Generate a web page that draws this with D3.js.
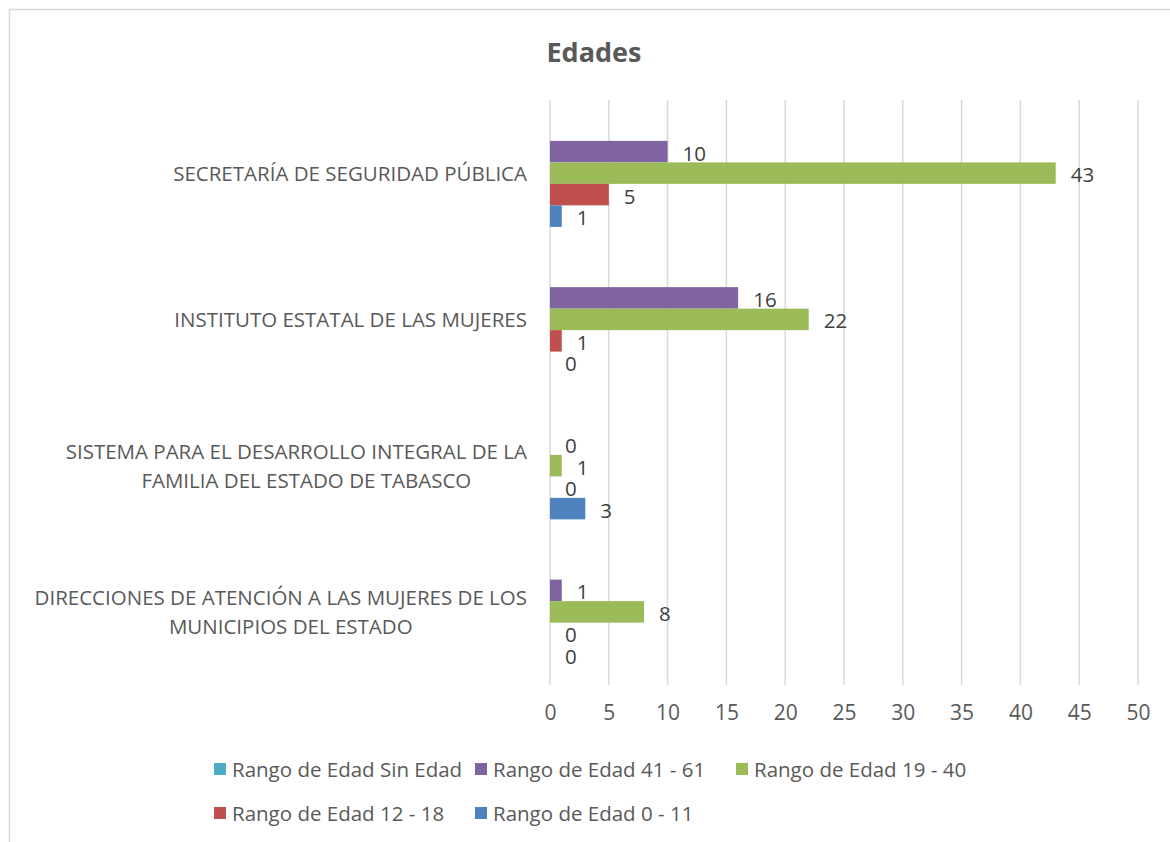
<!DOCTYPE html>
<html>
<head>
<meta charset="utf-8">
<script src="https://cdn.jsdelivr.net/npm/d3@7"></script>
<style>
  body { margin: 0; background: #fff; }
  text { font-family: 'Open Sans', 'Noto Sans', sans-serif; }
</style>
</head>
<body>
<div id="chart"></div>
<script>
var categories = [
  ['SECRETARÍA DE SEGURIDAD PÚBLICA'],
  ['INSTITUTO ESTATAL DE LAS MUJERES'],
  ['SISTEMA PARA EL DESARROLLO INTEGRAL DE LA', 'FAMILIA DEL ESTADO DE TABASCO'],
  ['DIRECCIONES DE ATENCIÓN A LAS MUJERES DE LOS', 'MUNICIPIOS DEL ESTADO']
];

// series in the order they sit inside a group, top to bottom
var seriesNames = [
  'Rango de Edad Sin Edad',
  'Rango de Edad 41 - 61',
  'Rango de Edad 19 - 40',
  'Rango de Edad 12 - 18',
  'Rango de Edad 0 - 11'
];
var sinEdad = [null, null, null, null];
var edad41a61 = [10, 16, 0, 1];
var edad19a40 = [43, 22, 1, 8];
var edad12a18 = [5, 1, 0, 0];
var edad0a11 = [1, 0, 3, 0];
var seriesValues = [sinEdad, edad41a61, edad19a40, edad12a18, edad0a11];
var seriesColors = ['#4BACC6', '#8064A2', '#9BBB59', '#C0504D', '#4F81BD'];

var xTicks = [0, 5, 10, 15, 20, 25, 30, 35, 40, 45, 50];

var width = 1170;
var height = 842;
var plotLeft = 550;
var plotRight = 1138;
var plotTop = 100;
var plotBottom = 685;

var svg = d3.select('#chart').append('svg')
  .attr('width', width)
  .attr('height', height);

svg.append('rect')
  .attr('x', 9.5).attr('y', 9.5)
  .attr('width', 1200).attr('height', 900)
  .attr('fill', '#fff')
  .attr('stroke', '#d9d9d9')
  .attr('stroke-width', 1.5);

svg.append('text')
  .attr('x', 594).attr('y', 51)
  .attr('text-anchor', 'middle')
  .attr('dominant-baseline', 'central')
  .attr('font-size', 27)
  .attr('font-weight', 'bold')
  .attr('fill', '#595959')
  .text('Edades');

var x = d3.scaleLinear()
  .domain([0, 50])
  .range([plotLeft, plotRight]);

var catKeys = categories.map(function (c) { return c.join(' '); });

var y0 = d3.scaleBand()
  .domain(catKeys)
  .range([plotTop, plotBottom])
  .paddingInner(0.265)
  .paddingOuter(0.1325);

var y1 = d3.scaleBand()
  .domain(seriesNames)
  .range([0, y0.bandwidth()]);

// grid
svg.append('g').attr('class', 'grid')
  .selectAll('line')
  .data(xTicks)
  .enter().append('line')
  .attr('x1', function (d) { return x(d); })
  .attr('x2', function (d) { return x(d); })
  .attr('y1', plotTop)
  .attr('y2', plotBottom)
  .attr('stroke', '#d9d9d9')
  .attr('stroke-width', 1.5);

var xAxis = d3.axisBottom(x)
  .tickValues(xTicks)
  .tickSize(0)
  .tickPadding(20);

var gx = svg.append('g')
  .attr('transform', 'translate(0,' + plotBottom + ')')
  .call(xAxis);
gx.select('.domain').remove();
gx.selectAll('text')
  .attr('font-size', 21)
  .attr('fill', '#595959')
  .attr('font-family', "'Open Sans', sans-serif");

// category labels
var catSize = 20.5;
var catG = svg.append('g');
categories.forEach(function (lines, i) {
  var cy = y0(catKeys[i]) + y0.bandwidth() / 2;
  var lineH = 29;
  var t = catG.append('text')
    .attr('font-size', catSize)
    .attr('fill', '#595959');
  if (lines.length === 1) {
    t.attr('x', 527).attr('y', cy)
      .attr('text-anchor', 'end')
      .attr('dominant-baseline', 'central')
      .text(lines[0]);
  } else {
    var tmp = catG.append('text').attr('font-size', catSize).text(lines[0]);
    var w = tmp.node().getComputedTextLength();
    tmp.remove();
    var cx = 527 - w / 2;
    lines.forEach(function (line, j) {
      t.append('tspan')
        .attr('x', cx + (j > 0 ? 10 : 0))
        .attr('y', cy + (j - (lines.length - 1) / 2) * lineH)
        .attr('text-anchor', 'middle')
        .attr('dominant-baseline', 'central')
        .text(line);
    });
  }
});

// bars
var groups = svg.append('g').selectAll('g')
  .data(catKeys)
  .enter().append('g')
  .attr('transform', function (d) { return 'translate(0,' + y0(d) + ')'; });

groups.each(function (cat, i) {
  var g = d3.select(this);
  var rows = seriesNames.map(function (s, k) {
    return { name: s, value: seriesValues[k][i], color: seriesColors[k] };
  }).filter(function (r) { return r.value !== null; });

  g.selectAll('rect')
    .data(rows)
    .enter().append('rect')
    .attr('x', x(0))
    .attr('y', function (d) { return y1(d.name); })
    .attr('width', function (d) { return x(d.value) - x(0); })
    .attr('height', y1.bandwidth())
    .attr('fill', function (d) { return d.color; });

  g.selectAll('text')
    .data(rows)
    .enter().append('text')
    .attr('x', function (d) { return x(d.value) + 15; })
    .attr('y', function (d) { return y1(d.name) + y1.bandwidth() / 2 + 1; })
    .attr('dominant-baseline', 'central')
    .attr('font-size', 20.5)
    .attr('fill', '#404040')
    .text(function (d) { return d.value; });
});

// legend
var legend = svg.append('g');
var legendItems = legend.selectAll('g')
  .data(seriesNames)
  .enter().append('g')
  .attr('transform', function (d, i) {
    return 'translate(' + (214 + (i % 3) * 261) + ',' + (769 + Math.floor(i / 3) * 44) + ')';
  });

legendItems.append('rect')
  .attr('x', 0).attr('y', -6)
  .attr('width', 12).attr('height', 12)
  .attr('fill', function (d, i) { return seriesColors[i]; });

legendItems.append('text')
  .attr('x', 18).attr('y', 0)
  .attr('dominant-baseline', 'central')
  .attr('font-size', 20.5)
  .attr('fill', '#595959')
  .text(function (d) { return d; });
</script>
</body>
</html>
